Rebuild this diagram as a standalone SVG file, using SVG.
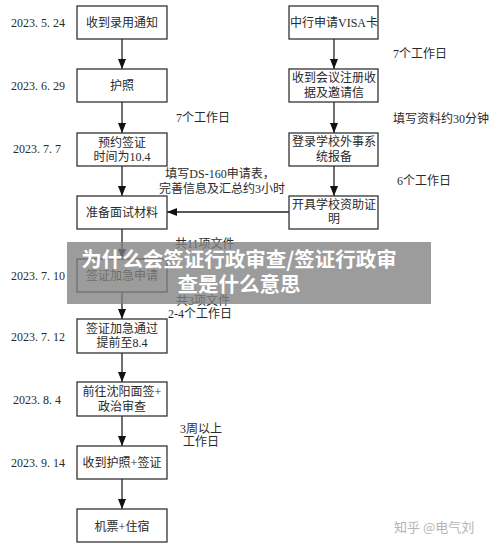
<svg xmlns="http://www.w3.org/2000/svg" width="500" height="548" viewBox="0 0 500 548">
<defs>
<marker id="ah" viewBox="0 0 10 10" refX="10" refY="5" markerWidth="10" markerHeight="10" markerUnits="userSpaceOnUse" orient="auto">
<path d="M0,1 L10,5 L0,9 z" fill="#111"/>
</marker>
<style>
text{font-family:"Liberation Serif","Noto Sans CJK SC",serif;font-size:12px;fill:#2a2a2a}
.c{text-anchor:middle}
.box{fill:#fff;stroke:#333;stroke-width:1.3}
.ln{stroke:#222;stroke-width:1.3;fill:none;marker-end:url(#ah)}
</style>
</defs>
<rect width="500" height="548" fill="#fff"/>
<g id="connectors">
<line class="ln" x1="122" y1="39" x2="122" y2="69"/>
<line class="ln" x1="122" y1="102" x2="122" y2="133"/>
<line class="ln" x1="122" y1="166" x2="122" y2="196"/>
<line class="ln" x1="122" y1="229" x2="122" y2="259"/>
<line class="ln" x1="122" y1="292" x2="122" y2="319"/>
<line class="ln" x1="122" y1="353" x2="122" y2="382"/>
<line class="ln" x1="122" y1="416" x2="122" y2="446"/>
<line class="ln" x1="122" y1="479" x2="122" y2="509"/>
<line class="ln" x1="334" y1="39" x2="334" y2="69"/>
<line class="ln" x1="334" y1="102" x2="334" y2="133"/>
<line class="ln" x1="334" y1="166" x2="334" y2="196"/>
<line class="ln" x1="289" y1="212" x2="167" y2="212"/>
</g>
<g id="n1"><rect class="box" x="77" y="6" width="90" height="33"/><text class="c" x="122" y="27">收到录用通知</text></g>
<g id="n2"><rect class="box" x="77" y="69" width="90" height="33"/><text class="c" x="122" y="90">护照</text></g>
<g id="n3"><rect class="box" x="77" y="133" width="90" height="33"/><text class="c" x="122" y="147">预约签证</text><text class="c" x="122" y="161">时间为10.4</text></g>
<g id="n4"><rect class="box" x="77" y="196" width="90" height="33"/><text class="c" x="122" y="217">准备面试材料</text></g>
<g id="n5"><rect class="box" x="77" y="259" width="90" height="33"/><text class="c" x="122" y="280">签证加急申请</text></g>
<g id="n6"><rect class="box" x="77" y="319" width="90" height="34"/><text class="c" x="122" y="333">签证加急通过</text><text class="c" x="122" y="347">提前至8.4</text></g>
<g id="n7"><rect class="box" x="77" y="382" width="90" height="34"/><text class="c" x="122" y="396">前往沈阳面签+</text><text class="c" x="122" y="411">政治审查</text></g>
<g id="n8"><rect class="box" x="77" y="446" width="90" height="33"/><text class="c" x="122" y="467">收到护照+签证</text></g>
<g id="n9"><rect class="box" x="77" y="509" width="90" height="33"/><text class="c" x="122" y="531">机票+住宿</text></g>
<g id="r1"><rect class="box" x="289" y="6" width="89" height="33"/><text class="c" x="334" y="27">中行申请VISA卡</text></g>
<g id="r2"><rect class="box" x="289" y="69" width="89" height="33"/><text class="c" x="334" y="82">收到会议注册收</text><text class="c" x="334" y="97">据及邀请信</text></g>
<g id="r3"><rect class="box" x="289" y="133" width="89" height="33"/><text class="c" x="334" y="146">登录学校外事系</text><text class="c" x="334" y="161">统报备</text></g>
<g id="r4"><rect class="box" x="289" y="196" width="89" height="33"/><text class="c" x="334" y="209">开具学校资助证</text><text class="c" x="334" y="223">明</text></g>
<g id="dates">
<text x="11" y="27">2023. 5. 24</text>
<text x="11" y="90">2023. 6. 29</text>
<text x="13" y="153">2023. 7. 7</text>
<text x="11" y="280">2023. 7. 10</text>
<text x="11" y="341">2023. 7. 12</text>
<text x="13" y="404">2023. 8. 4</text>
<text x="11" y="467">2023. 9. 14</text>
</g>
<g id="labels">
<text x="176" y="122">7个工作日</text>
<text x="393" y="58">7个工作日</text>
<text x="393" y="123">填写资料约30分钟</text>
<text class="c" x="220" y="178">填写DS-160申请表，</text>
<text class="c" x="222" y="193">完善信息及汇总约3小时</text>
<text x="397" y="185">6个工作日</text>
<text x="175" y="248">共11项文件</text>
<text x="176" y="305">共3项文件</text>
<text x="168" y="318">2-4个工作日</text>
<text class="c" x="201" y="433">3周以上</text>
<text class="c" x="201" y="446">工作日</text>
</g>
<g id="banner">
<rect x="67" y="242" width="364" height="62" fill="#808080" opacity="0.78"/>
<text class="c" x="239" y="267" style="font-family:'Noto Sans CJK SC',sans-serif;font-size:20.5px;font-weight:bold;fill:#fff">为什么会签证行政审查/签证行政审</text>
<text class="c" x="239" y="292" style="font-family:'Noto Sans CJK SC',sans-serif;font-size:20.5px;font-weight:bold;fill:#fff">查是什么意思</text>
</g>
<text x="394" y="532" style="font-family:'Noto Sans CJK SC',sans-serif;font-size:13px;fill:#b5b5b5">知乎 @电气刘</text>
</svg>
